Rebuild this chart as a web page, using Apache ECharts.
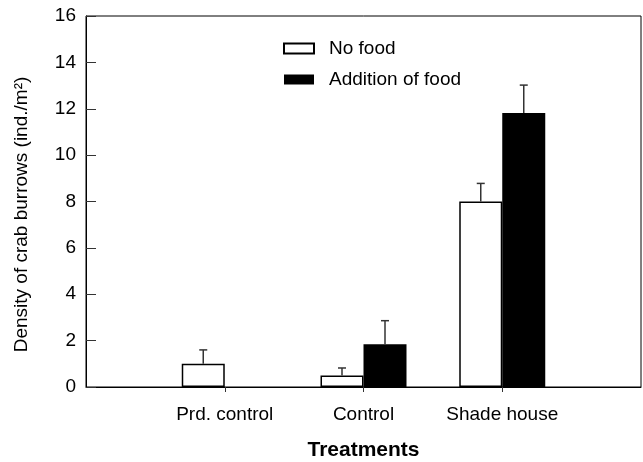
<!DOCTYPE html>
<html>
<head>
<meta charset="utf-8">
<script src="https://cdn.jsdelivr.net/npm/echarts@6/dist/echarts.min.js"></script>
<style>html,body{margin:0;padding:0;background:#fff}#c{width:643px;height:462px}</style>
</head>
<body>
<div id="c"></div>
<script>
// Data
const categories = ['', 'Prd. control', 'Control', 'Shade house', ''];
const noFood = ['-', 1.0, 0.5, 8.0, '-'];
const noFoodUpper = [null, 1.6, 0.82, 8.78, null];
const food = ['-', 0, 1.84, 11.82, '-'];
const foodUpper = [null, null, 2.86, 13.02, null];
const yTicks = { min: 0, max: 16, interval: 2 };

const FONT = "'Liberation Sans', Arial, sans-serif";
const BAR_W = 43;

const errData = [];
categories.forEach((c, i) => {
  if (noFoodUpper[i] != null) errData.push([i, noFood[i], noFoodUpper[i], 0]);
  if (foodUpper[i] != null) errData.push([i, food[i], foodUpper[i], 1]);
});

const chart = echarts.init(document.getElementById('c'), null, { renderer: 'canvas' });
chart.setOption({
  animation: false,
  backgroundColor: '#fff',
  textStyle: { fontFamily: FONT },
  grid: { left: 86, right: 2, top: 16, bottom: 75, show: true, borderColor: '#000', borderWidth: 1,
          containLabel: false, outerBoundsMode: 'none' },
  legend: {
    data: ['No food', 'Addition of food'],
    orient: 'vertical',
    left: 278, top: 34,
    itemWidth: 30, itemHeight: 10, itemGap: 12,
    textStyle: { fontSize: 19, color: '#000', fontFamily: FONT, padding: [0, 0, 0, 10] },
    icon: 'rect'
  },
  xAxis: {
    type: 'category',
    data: categories,
    boundaryGap: false,
    axisLine: { lineStyle: { color: '#000', width: 1 } },
    axisTick: { length: 5, lineStyle: { color: '#333' }, interval: (i) => i > 0 && i < categories.length - 1 },
    axisLabel: { interval: (i) => i > 0 && i < categories.length - 1, fontSize: 19, color: '#000', margin: 18, fontFamily: FONT },
    name: 'Treatments',
    nameLocation: 'middle',
    nameGap: 53,
    nameTextStyle: { fontSize: 21, fontWeight: 'bold', color: '#000', fontFamily: FONT },
    splitLine: { show: false }
  },
  yAxis: {
    type: 'value',
    min: yTicks.min, max: yTicks.max, interval: yTicks.interval,
    axisLine: { show: true, lineStyle: { color: '#000', width: 1 } },
    axisTick: { show: true, inside: true, length: 10, lineStyle: { color: '#333' } },
    axisLabel: { fontSize: 19, color: '#000', margin: 10, fontFamily: FONT },
    splitLine: { show: false },
    name: 'Density of crab burrows (ind./m²)',
    nameLocation: 'middle',
    nameGap: 55,
    nameTextStyle: { fontSize: 19, color: '#000', fontFamily: FONT, padding: [0, 26, 0, 0] }
  },
  series: [
    {
      name: 'No food', type: 'bar', data: noFood, barWidth: BAR_W, barGap: '0%',
      itemStyle: { color: '#fff', borderColor: '#000', borderWidth: 1.5 }
    },
    {
      name: 'Addition of food', type: 'bar', data: food, barWidth: BAR_W, barGap: '0%',
      itemStyle: { color: '#000', borderColor: '#000', borderWidth: 0 }
    },
    {
      name: 'err', type: 'custom', data: errData, z: 5,
      renderItem: function (params, api) {
        const idx = api.value(0);
        const base = api.coord([idx, api.value(1)]);
        const top = api.coord([idx, api.value(2)]);
        const x = base[0] + (api.value(3) === 0 ? -1 : 1) * BAR_W / 2;
        const style = { stroke: '#333', lineWidth: 1.5 };
        return {
          type: 'group',
          children: [
            { type: 'line', shape: { x1: x, y1: base[1], x2: x, y2: top[1] }, style: style },
            { type: 'line', shape: { x1: x - 4, y1: top[1], x2: x + 4, y2: top[1] }, style: style }
          ]
        };
      }
    }
  ]
});
</script>
</body>
</html>
